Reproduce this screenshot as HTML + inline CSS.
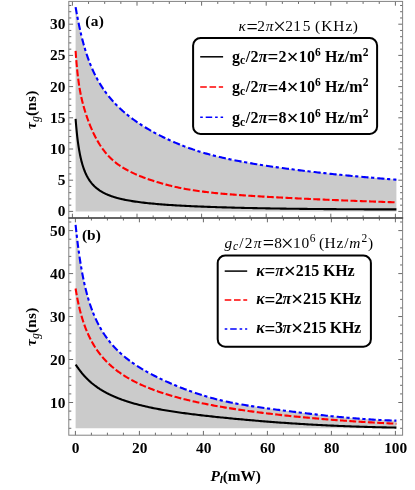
<!DOCTYPE html>
<html><head><meta charset="utf-8"><title>chart</title>
<style>html,body{margin:0;padding:0;background:#fff;}body{width:415px;height:490px;overflow:hidden;font-family:"Liberation Serif",serif;}svg{display:block;will-change:transform;}</style>
</head><body>
<svg width="415" height="490" viewBox="0 0 415 490">
<rect width="415" height="490" fill="#fff"/>
<path d="M75.60,7.10 L75.92,8.97 L76.25,10.81 L76.57,12.61 L76.89,14.38 L77.21,16.11 L77.54,17.81 L77.86,19.48 L78.18,21.11 L78.51,22.72 L78.83,24.28 L79.15,25.82 L79.48,27.33 L79.80,28.81 L80.12,30.26 L80.44,31.67 L80.77,33.07 L81.09,34.43 L81.41,35.77 L81.74,37.08 L82.06,38.36 L82.38,39.62 L82.71,40.86 L83.03,42.08 L83.35,43.27 L83.67,44.43 L84.00,45.58 L84.32,46.71 L84.64,47.81 L84.97,48.89 L85.29,49.96 L85.61,51.00 L85.94,52.03 L86.26,53.04 L86.58,54.03 L86.90,55.00 L87.23,55.96 L87.55,56.90 L87.87,57.82 L88.20,58.73 L88.52,59.63 L88.84,60.50 L89.17,61.37 L89.49,62.22 L89.81,63.05 L90.13,63.87 L90.46,64.68 L90.78,65.47 L91.10,66.26 L91.43,67.03 L91.75,67.78 L92.07,68.53 L92.40,69.26 L92.72,69.98 L93.04,70.70 L93.36,71.40 L93.69,72.09 L94.01,72.77 L94.33,73.44 L94.66,74.10 L94.98,74.75 L95.30,75.40 L95.63,76.03 L95.95,76.66 L96.27,77.28 L96.59,77.88 L96.92,78.49 L97.24,79.08 L97.56,79.67 L97.89,80.24 L98.21,80.82 L98.53,81.38 L98.86,81.94 L99.18,82.49 L99.50,83.03 L99.82,83.57 L100.15,84.10 L100.47,84.62 L100.79,85.14 L101.12,85.66 L101.44,86.16 L101.76,86.67 L102.09,87.16 L102.41,87.65 L102.73,88.14 L103.05,88.62 L103.38,89.09 L103.70,89.56 L104.02,90.03 L104.35,90.49 L104.67,90.94 L104.99,91.39 L105.32,91.84 L105.64,92.28 L105.96,92.72 L106.28,93.15 L106.61,93.58 L106.93,94.00 L107.25,94.42 L107.58,94.84 L107.90,95.25 L108.22,95.66 L108.55,96.07 L108.87,96.47 L109.19,96.87 L109.51,97.26 L109.84,97.65 L110.16,98.04 L110.48,98.42 L110.81,98.80 L111.13,99.18 L111.45,99.55 L111.78,99.92 L112.10,100.29 L112.42,100.66 L112.74,101.02 L113.07,101.38 L113.39,101.73 L113.71,102.08 L114.04,102.43 L114.36,102.78 L114.68,103.12 L115.01,103.47 L115.33,103.81 L115.65,104.14 L115.97,104.48 L116.30,104.81 L116.62,105.14 L116.94,105.46 L117.27,105.79 L117.59,106.11 L117.91,106.43 L118.24,106.74 L118.56,107.06 L118.88,107.37 L119.20,107.68 L119.53,107.99 L119.85,108.29 L120.17,108.60 L120.50,108.90 L120.82,109.20 L121.14,109.49 L121.47,109.79 L121.79,110.08 L122.11,110.37 L122.43,110.66 L122.76,110.95 L123.08,111.23 L123.40,111.52 L123.73,111.80 L124.05,112.08 L124.08,112.11 L125.70,113.48 L127.31,114.81 L128.93,116.10 L130.54,117.35 L132.16,118.57 L133.77,119.76 L135.38,120.91 L137.00,122.04 L138.62,123.13 L140.23,124.20 L141.84,125.25 L143.46,126.26 L145.07,127.26 L146.69,128.24 L148.31,129.19 L149.92,130.12 L151.54,131.04 L153.15,131.93 L154.76,132.81 L156.38,133.67 L158.00,134.51 L159.61,135.34 L161.23,136.16 L162.84,136.96 L164.45,137.74 L166.07,138.51 L167.69,139.27 L169.30,140.02 L170.92,140.75 L172.53,141.47 L174.15,142.17 L175.76,142.86 L177.38,143.54 L178.99,144.20 L180.61,144.86 L182.22,145.50 L183.84,146.12 L185.45,146.74 L187.06,147.34 L188.68,147.92 L190.30,148.50 L191.91,149.06 L193.53,149.62 L195.14,150.16 L196.75,150.69 L198.37,151.20 L199.99,151.71 L201.60,152.20 L203.22,152.69 L204.83,153.16 L206.44,153.62 L208.06,154.07 L209.68,154.51 L211.29,154.94 L212.91,155.36 L214.52,155.78 L216.13,156.18 L217.75,156.58 L219.37,156.96 L220.98,157.34 L222.59,157.72 L224.21,158.08 L225.83,158.44 L227.44,158.79 L229.06,159.13 L230.67,159.47 L232.28,159.81 L233.90,160.13 L235.52,160.45 L237.13,160.77 L238.75,161.08 L240.36,161.39 L241.97,161.69 L243.59,161.98 L245.21,162.28 L246.82,162.56 L248.44,162.85 L250.05,163.13 L251.66,163.40 L253.28,163.67 L254.90,163.94 L256.51,164.21 L258.12,164.47 L259.74,164.72 L261.36,164.98 L262.97,165.23 L264.59,165.48 L266.20,165.72 L267.81,165.97 L269.43,166.21 L271.05,166.44 L272.66,166.68 L274.27,166.91 L275.89,167.14 L277.50,167.37 L279.12,167.60 L280.74,167.82 L282.35,168.04 L283.97,168.26 L285.58,168.48 L287.19,168.69 L288.81,168.91 L290.43,169.12 L292.04,169.33 L293.65,169.54 L295.27,169.74 L296.88,169.95 L298.50,170.15 L300.12,170.35 L301.73,170.55 L303.35,170.74 L304.96,170.94 L306.58,171.13 L308.19,171.33 L309.81,171.52 L311.42,171.70 L313.03,171.89 L314.65,172.08 L316.26,172.26 L317.88,172.44 L319.50,172.62 L321.11,172.80 L322.73,172.98 L324.34,173.15 L325.96,173.33 L327.57,173.50 L329.19,173.67 L330.80,173.84 L332.41,174.01 L334.03,174.18 L335.64,174.34 L337.26,174.51 L338.88,174.67 L340.49,174.83 L342.11,174.99 L343.72,175.15 L345.34,175.31 L346.95,175.47 L348.57,175.62 L350.18,175.77 L351.79,175.93 L353.41,176.08 L355.02,176.23 L356.64,176.38 L358.25,176.52 L359.87,176.67 L361.49,176.81 L363.10,176.96 L364.72,177.10 L366.33,177.24 L367.95,177.38 L369.56,177.52 L371.17,177.66 L372.79,177.80 L374.40,177.93 L376.02,178.07 L377.63,178.20 L379.25,178.33 L380.87,178.47 L382.48,178.60 L384.10,178.73 L385.71,178.85 L387.33,178.98 L388.94,179.11 L390.55,179.23 L392.17,179.36 L393.78,179.48 L395.40,179.60 L396.40,179.68 L396.40,211.4 L75.60,211.4 Z" fill="#cbcbcb"/>
<path d="M75.60,224.91 L75.92,227.94 L76.24,230.90 L76.56,233.78 L76.88,236.58 L77.20,239.31 L77.52,241.95 L77.84,244.52 L78.16,247.01 L78.48,249.43 L78.80,251.78 L79.12,254.06 L79.44,256.27 L79.76,258.42 L80.08,260.51 L80.40,262.53 L80.72,264.50 L81.04,266.42 L81.36,268.28 L81.68,270.10 L82.00,271.86 L82.32,273.58 L82.64,275.25 L82.96,276.87 L83.28,278.46 L83.60,280.01 L83.92,281.51 L84.24,282.98 L84.56,284.41 L84.88,285.81 L85.20,287.18 L85.52,288.51 L85.84,289.81 L86.16,291.08 L86.48,292.32 L86.80,293.53 L87.12,294.71 L87.44,295.87 L87.76,297.01 L88.08,298.11 L88.40,299.20 L88.72,300.26 L89.04,301.30 L89.36,302.31 L89.68,303.31 L90.00,304.28 L90.32,305.24 L90.64,306.17 L90.96,307.09 L91.28,307.99 L91.60,308.87 L91.92,309.73 L92.24,310.58 L92.56,311.42 L92.88,312.23 L93.20,313.04 L93.52,313.83 L93.84,314.60 L94.16,315.37 L94.48,316.12 L94.80,316.85 L95.12,317.58 L95.44,318.29 L95.76,318.99 L96.08,319.68 L96.40,320.36 L96.72,321.03 L97.04,321.69 L97.36,322.34 L97.68,322.98 L98.00,323.61 L98.32,324.23 L98.64,324.84 L98.96,325.44 L99.28,326.03 L99.60,326.62 L99.92,327.20 L100.24,327.77 L100.56,328.33 L100.88,328.88 L101.20,329.43 L101.52,329.97 L101.84,330.50 L102.16,331.03 L102.48,331.55 L102.80,332.06 L103.12,332.56 L103.44,333.06 L103.76,333.56 L104.08,334.04 L104.40,334.53 L104.72,335.00 L105.04,335.47 L105.36,335.94 L105.68,336.40 L106.00,336.85 L106.32,337.30 L106.64,337.74 L106.96,338.18 L107.28,338.61 L107.60,339.04 L107.92,339.47 L108.24,339.89 L108.56,340.30 L108.88,340.71 L109.20,341.12 L109.52,341.52 L109.84,341.92 L110.16,342.32 L110.48,342.71 L110.80,343.09 L111.12,343.47 L111.44,343.85 L111.76,344.23 L112.08,344.60 L112.40,344.97 L112.72,345.33 L113.04,345.69 L113.36,346.05 L113.68,346.40 L114.00,346.75 L114.32,347.10 L114.64,347.44 L114.96,347.78 L115.28,348.12 L115.60,348.45 L115.92,348.79 L116.24,349.12 L116.56,349.44 L116.88,349.76 L117.20,350.08 L117.52,350.40 L117.84,350.72 L118.16,351.03 L118.48,351.34 L118.80,351.65 L119.12,351.95 L119.44,352.25 L119.76,352.55 L120.08,352.85 L120.40,353.14 L120.72,353.43 L121.04,353.72 L121.36,354.01 L121.68,354.30 L122.00,354.58 L122.32,354.86 L122.64,355.14 L122.96,355.42 L123.28,355.69 L123.60,355.96 L123.92,356.24 L124.24,356.50 L124.56,356.77 L124.88,357.03 L125.20,357.30 L125.52,357.56 L125.84,357.82 L126.16,358.07 L126.48,358.33 L126.60,358.42 L128.20,359.67 L129.80,360.88 L131.40,362.04 L133.00,363.18 L134.60,364.27 L136.20,365.34 L137.80,366.38 L139.40,367.39 L141.00,368.37 L142.60,369.34 L144.20,370.27 L145.80,371.19 L147.40,372.09 L149.00,372.97 L150.60,373.82 L152.20,374.67 L153.80,375.49 L155.40,376.30 L157.00,377.10 L158.60,377.88 L160.20,378.65 L161.80,379.41 L163.40,380.15 L165.00,380.89 L166.60,381.61 L168.20,382.32 L169.80,383.02 L171.40,383.71 L173.00,384.39 L174.60,385.06 L176.20,385.73 L177.80,386.39 L179.40,387.03 L181.00,387.67 L182.60,388.30 L184.20,388.92 L185.80,389.53 L187.40,390.13 L189.00,390.72 L190.60,391.31 L192.20,391.88 L193.80,392.44 L195.40,392.99 L197.00,393.53 L198.60,394.06 L200.20,394.57 L201.80,395.08 L203.40,395.58 L205.00,396.07 L206.60,396.54 L208.20,397.01 L209.80,397.46 L211.40,397.91 L213.00,398.34 L214.60,398.77 L216.20,399.18 L217.80,399.58 L219.40,399.98 L221.00,400.36 L222.60,400.73 L224.20,401.09 L225.80,401.45 L227.40,401.79 L229.00,402.13 L230.60,402.45 L232.20,402.77 L233.80,403.08 L235.40,403.39 L237.00,403.69 L238.60,403.98 L240.20,404.26 L241.80,404.54 L243.40,404.81 L245.00,405.08 L246.60,405.35 L248.20,405.60 L249.80,405.86 L251.40,406.11 L253.00,406.35 L254.60,406.60 L256.20,406.83 L257.80,407.07 L259.40,407.30 L261.00,407.53 L262.60,407.76 L264.20,407.98 L265.80,408.20 L267.40,408.42 L269.00,408.64 L270.60,408.85 L272.20,409.06 L273.80,409.28 L275.40,409.48 L277.00,409.69 L278.60,409.90 L280.20,410.10 L281.80,410.31 L283.40,410.51 L285.00,410.71 L286.60,410.91 L288.20,411.11 L289.80,411.31 L291.40,411.51 L293.00,411.71 L294.60,411.90 L296.20,412.10 L297.80,412.30 L299.40,412.49 L301.00,412.69 L302.60,412.89 L304.20,413.08 L305.80,413.27 L307.40,413.47 L309.00,413.66 L310.60,413.85 L312.20,414.04 L313.80,414.23 L315.40,414.41 L317.00,414.60 L318.60,414.78 L320.20,414.96 L321.80,415.14 L323.40,415.32 L325.00,415.50 L326.60,415.67 L328.20,415.84 L329.80,416.01 L331.40,416.18 L333.00,416.35 L334.60,416.51 L336.20,416.67 L337.80,416.83 L339.40,416.98 L341.00,417.14 L342.60,417.29 L344.20,417.44 L345.80,417.58 L347.40,417.72 L349.00,417.86 L350.60,418.00 L352.20,418.13 L353.80,418.27 L355.40,418.39 L357.00,418.52 L358.60,418.64 L360.20,418.76 L361.80,418.88 L363.40,418.99 L365.00,419.10 L366.60,419.21 L368.20,419.32 L369.80,419.42 L371.40,419.52 L373.00,419.61 L374.60,419.70 L376.20,419.79 L377.80,419.88 L379.40,419.96 L381.00,420.04 L382.60,420.12 L384.20,420.19 L385.80,420.26 L387.40,420.33 L389.00,420.39 L390.60,420.45 L392.20,420.51 L393.80,420.56 L395.40,420.62 L396.40,420.65 L396.40,428.3 L75.60,428.3 Z" fill="#cbcbcb"/>
<path d="M72.40,1.4v4.3 M72.40,218.0v-4.3 M75.40,218.0v4.3 M75.40,435.2v-4.3 M88.55,1.4v2.5 M88.55,218.0v-2.5 M91.40,218.0v2.5 M91.40,435.2v-2.5 M104.70,1.4v2.5 M104.70,218.0v-2.5 M107.40,218.0v2.5 M107.40,435.2v-2.5 M120.85,1.4v2.5 M120.85,218.0v-2.5 M123.40,218.0v2.5 M123.40,435.2v-2.5 M137.00,1.4v4.3 M137.00,218.0v-4.3 M139.40,218.0v4.3 M139.40,435.2v-4.3 M153.15,1.4v2.5 M153.15,218.0v-2.5 M155.40,218.0v2.5 M155.40,435.2v-2.5 M169.30,1.4v2.5 M169.30,218.0v-2.5 M171.40,218.0v2.5 M171.40,435.2v-2.5 M185.45,1.4v2.5 M185.45,218.0v-2.5 M187.40,218.0v2.5 M187.40,435.2v-2.5 M201.60,1.4v4.3 M201.60,218.0v-4.3 M203.40,218.0v4.3 M203.40,435.2v-4.3 M217.75,1.4v2.5 M217.75,218.0v-2.5 M219.40,218.0v2.5 M219.40,435.2v-2.5 M233.90,1.4v2.5 M233.90,218.0v-2.5 M235.40,218.0v2.5 M235.40,435.2v-2.5 M250.05,1.4v2.5 M250.05,218.0v-2.5 M251.40,218.0v2.5 M251.40,435.2v-2.5 M266.20,1.4v4.3 M266.20,218.0v-4.3 M267.40,218.0v4.3 M267.40,435.2v-4.3 M282.35,1.4v2.5 M282.35,218.0v-2.5 M283.40,218.0v2.5 M283.40,435.2v-2.5 M298.50,1.4v2.5 M298.50,218.0v-2.5 M299.40,218.0v2.5 M299.40,435.2v-2.5 M314.65,1.4v2.5 M314.65,218.0v-2.5 M315.40,218.0v2.5 M315.40,435.2v-2.5 M330.80,1.4v4.3 M330.80,218.0v-4.3 M331.40,218.0v4.3 M331.40,435.2v-4.3 M346.95,1.4v2.5 M346.95,218.0v-2.5 M347.40,218.0v2.5 M347.40,435.2v-2.5 M363.10,1.4v2.5 M363.10,218.0v-2.5 M363.40,218.0v2.5 M363.40,435.2v-2.5 M379.25,1.4v2.5 M379.25,218.0v-2.5 M379.40,218.0v2.5 M379.40,435.2v-2.5 M395.40,1.4v4.3 M395.40,218.0v-4.3 M395.40,218.0v4.3 M395.40,435.2v-4.3 M68.8,211.40h4.3 M402.6,211.40h-4.3 M68.8,205.16h2.5 M402.6,205.16h-2.5 M68.8,198.92h2.5 M402.6,198.92h-2.5 M68.8,192.68h2.5 M402.6,192.68h-2.5 M68.8,186.44h2.5 M402.6,186.44h-2.5 M68.8,180.20h4.3 M402.6,180.20h-4.3 M68.8,173.96h2.5 M402.6,173.96h-2.5 M68.8,167.72h2.5 M402.6,167.72h-2.5 M68.8,161.48h2.5 M402.6,161.48h-2.5 M68.8,155.24h2.5 M402.6,155.24h-2.5 M68.8,149.00h4.3 M402.6,149.00h-4.3 M68.8,142.76h2.5 M402.6,142.76h-2.5 M68.8,136.52h2.5 M402.6,136.52h-2.5 M68.8,130.28h2.5 M402.6,130.28h-2.5 M68.8,124.04h2.5 M402.6,124.04h-2.5 M68.8,117.80h4.3 M402.6,117.80h-4.3 M68.8,111.56h2.5 M402.6,111.56h-2.5 M68.8,105.32h2.5 M402.6,105.32h-2.5 M68.8,99.08h2.5 M402.6,99.08h-2.5 M68.8,92.84h2.5 M402.6,92.84h-2.5 M68.8,86.60h4.3 M402.6,86.60h-4.3 M68.8,80.36h2.5 M402.6,80.36h-2.5 M68.8,74.12h2.5 M402.6,74.12h-2.5 M68.8,67.88h2.5 M402.6,67.88h-2.5 M68.8,61.64h2.5 M402.6,61.64h-2.5 M68.8,55.40h4.3 M402.6,55.40h-4.3 M68.8,49.16h2.5 M402.6,49.16h-2.5 M68.8,42.92h2.5 M402.6,42.92h-2.5 M68.8,36.68h2.5 M402.6,36.68h-2.5 M68.8,30.44h2.5 M402.6,30.44h-2.5 M68.8,24.20h4.3 M402.6,24.20h-4.3 M68.8,17.96h2.5 M402.6,17.96h-2.5 M68.8,11.72h2.5 M402.6,11.72h-2.5 M68.8,5.48h2.5 M402.6,5.48h-2.5 M68.8,428.29h2.5 M402.6,428.29h-2.5 M68.8,419.69h2.5 M402.6,419.69h-2.5 M68.8,411.10h2.5 M402.6,411.10h-2.5 M68.8,402.50h4.3 M402.6,402.50h-4.3 M68.8,393.91h2.5 M402.6,393.91h-2.5 M68.8,385.31h2.5 M402.6,385.31h-2.5 M68.8,376.72h2.5 M402.6,376.72h-2.5 M68.8,368.12h2.5 M402.6,368.12h-2.5 M68.8,359.53h4.3 M402.6,359.53h-4.3 M68.8,350.93h2.5 M402.6,350.93h-2.5 M68.8,342.34h2.5 M402.6,342.34h-2.5 M68.8,333.74h2.5 M402.6,333.74h-2.5 M68.8,325.14h2.5 M402.6,325.14h-2.5 M68.8,316.55h4.3 M402.6,316.55h-4.3 M68.8,307.96h2.5 M402.6,307.96h-2.5 M68.8,299.36h2.5 M402.6,299.36h-2.5 M68.8,290.76h2.5 M402.6,290.76h-2.5 M68.8,282.17h2.5 M402.6,282.17h-2.5 M68.8,273.58h4.3 M402.6,273.58h-4.3 M68.8,264.98h2.5 M402.6,264.98h-2.5 M68.8,256.38h2.5 M402.6,256.38h-2.5 M68.8,247.79h2.5 M402.6,247.79h-2.5 M68.8,239.19h2.5 M402.6,239.19h-2.5 M68.8,230.60h4.3 M402.6,230.60h-4.3 M68.8,222.00h2.5 M402.6,222.00h-2.5" stroke="#6a6a6a" stroke-width="1" fill="none"/>
<rect x="68.8" y="1.4" width="333.8" height="216.6" fill="none" stroke="#828282" stroke-width="1"/>
<rect x="68.8" y="218.0" width="333.8" height="217.2" fill="none" stroke="#828282" stroke-width="1"/>
<path d="M68.3,218.0H403.1" stroke="#2a2a2a" stroke-width="1.2"/>
<path d="M75.60,7.10 L75.92,8.97 L76.25,10.81 L76.57,12.61 L76.89,14.38 L77.21,16.11 L77.54,17.81 L77.86,19.48 L78.18,21.11 L78.51,22.72 L78.83,24.28 L79.15,25.82 L79.48,27.33 L79.80,28.81 L80.12,30.26 L80.44,31.67 L80.77,33.07 L81.09,34.43 L81.41,35.77 L81.74,37.08 L82.06,38.36 L82.38,39.62 L82.71,40.86 L83.03,42.08 L83.35,43.27 L83.67,44.43 L84.00,45.58 L84.32,46.71 L84.64,47.81 L84.97,48.89 L85.29,49.96 L85.61,51.00 L85.94,52.03 L86.26,53.04 L86.58,54.03 L86.90,55.00 L87.23,55.96 L87.55,56.90 L87.87,57.82 L88.20,58.73 L88.52,59.63 L88.84,60.50 L89.17,61.37 L89.49,62.22 L89.81,63.05 L90.13,63.87 L90.46,64.68 L90.78,65.47 L91.10,66.26 L91.43,67.03 L91.75,67.78 L92.07,68.53 L92.40,69.26 L92.72,69.98 L93.04,70.70 L93.36,71.40 L93.69,72.09 L94.01,72.77 L94.33,73.44 L94.66,74.10 L94.98,74.75 L95.30,75.40 L95.63,76.03 L95.95,76.66 L96.27,77.28 L96.59,77.88 L96.92,78.49 L97.24,79.08 L97.56,79.67 L97.89,80.24 L98.21,80.82 L98.53,81.38 L98.86,81.94 L99.18,82.49 L99.50,83.03 L99.82,83.57 L100.15,84.10 L100.47,84.62 L100.79,85.14 L101.12,85.66 L101.44,86.16 L101.76,86.67 L102.09,87.16 L102.41,87.65 L102.73,88.14 L103.05,88.62 L103.38,89.09 L103.70,89.56 L104.02,90.03 L104.35,90.49 L104.67,90.94 L104.99,91.39 L105.32,91.84 L105.64,92.28 L105.96,92.72 L106.28,93.15 L106.61,93.58 L106.93,94.00 L107.25,94.42 L107.58,94.84 L107.90,95.25 L108.22,95.66 L108.55,96.07 L108.87,96.47 L109.19,96.87 L109.51,97.26 L109.84,97.65 L110.16,98.04 L110.48,98.42 L110.81,98.80 L111.13,99.18 L111.45,99.55 L111.78,99.92 L112.10,100.29 L112.42,100.66 L112.74,101.02 L113.07,101.38 L113.39,101.73 L113.71,102.08 L114.04,102.43 L114.36,102.78 L114.68,103.12 L115.01,103.47 L115.33,103.81 L115.65,104.14 L115.97,104.48 L116.30,104.81 L116.62,105.14 L116.94,105.46 L117.27,105.79 L117.59,106.11 L117.91,106.43 L118.24,106.74 L118.56,107.06 L118.88,107.37 L119.20,107.68 L119.53,107.99 L119.85,108.29 L120.17,108.60 L120.50,108.90 L120.82,109.20 L121.14,109.49 L121.47,109.79 L121.79,110.08 L122.11,110.37 L122.43,110.66 L122.76,110.95 L123.08,111.23 L123.40,111.52 L123.73,111.80 L124.05,112.08 L124.08,112.11 L125.70,113.48 L127.31,114.81 L128.93,116.10 L130.54,117.35 L132.16,118.57 L133.77,119.76 L135.38,120.91 L137.00,122.04 L138.62,123.13 L140.23,124.20 L141.84,125.25 L143.46,126.26 L145.07,127.26 L146.69,128.24 L148.31,129.19 L149.92,130.12 L151.54,131.04 L153.15,131.93 L154.76,132.81 L156.38,133.67 L158.00,134.51 L159.61,135.34 L161.23,136.16 L162.84,136.96 L164.45,137.74 L166.07,138.51 L167.69,139.27 L169.30,140.02 L170.92,140.75 L172.53,141.47 L174.15,142.17 L175.76,142.86 L177.38,143.54 L178.99,144.20 L180.61,144.86 L182.22,145.50 L183.84,146.12 L185.45,146.74 L187.06,147.34 L188.68,147.92 L190.30,148.50 L191.91,149.06 L193.53,149.62 L195.14,150.16 L196.75,150.69 L198.37,151.20 L199.99,151.71 L201.60,152.20 L203.22,152.69 L204.83,153.16 L206.44,153.62 L208.06,154.07 L209.68,154.51 L211.29,154.94 L212.91,155.36 L214.52,155.78 L216.13,156.18 L217.75,156.58 L219.37,156.96 L220.98,157.34 L222.59,157.72 L224.21,158.08 L225.83,158.44 L227.44,158.79 L229.06,159.13 L230.67,159.47 L232.28,159.81 L233.90,160.13 L235.52,160.45 L237.13,160.77 L238.75,161.08 L240.36,161.39 L241.97,161.69 L243.59,161.98 L245.21,162.28 L246.82,162.56 L248.44,162.85 L250.05,163.13 L251.66,163.40 L253.28,163.67 L254.90,163.94 L256.51,164.21 L258.12,164.47 L259.74,164.72 L261.36,164.98 L262.97,165.23 L264.59,165.48 L266.20,165.72 L267.81,165.97 L269.43,166.21 L271.05,166.44 L272.66,166.68 L274.27,166.91 L275.89,167.14 L277.50,167.37 L279.12,167.60 L280.74,167.82 L282.35,168.04 L283.97,168.26 L285.58,168.48 L287.19,168.69 L288.81,168.91 L290.43,169.12 L292.04,169.33 L293.65,169.54 L295.27,169.74 L296.88,169.95 L298.50,170.15 L300.12,170.35 L301.73,170.55 L303.35,170.74 L304.96,170.94 L306.58,171.13 L308.19,171.33 L309.81,171.52 L311.42,171.70 L313.03,171.89 L314.65,172.08 L316.26,172.26 L317.88,172.44 L319.50,172.62 L321.11,172.80 L322.73,172.98 L324.34,173.15 L325.96,173.33 L327.57,173.50 L329.19,173.67 L330.80,173.84 L332.41,174.01 L334.03,174.18 L335.64,174.34 L337.26,174.51 L338.88,174.67 L340.49,174.83 L342.11,174.99 L343.72,175.15 L345.34,175.31 L346.95,175.47 L348.57,175.62 L350.18,175.77 L351.79,175.93 L353.41,176.08 L355.02,176.23 L356.64,176.38 L358.25,176.52 L359.87,176.67 L361.49,176.81 L363.10,176.96 L364.72,177.10 L366.33,177.24 L367.95,177.38 L369.56,177.52 L371.17,177.66 L372.79,177.80 L374.40,177.93 L376.02,178.07 L377.63,178.20 L379.25,178.33 L380.87,178.47 L382.48,178.60 L384.10,178.73 L385.71,178.85 L387.33,178.98 L388.94,179.11 L390.55,179.23 L392.17,179.36 L393.78,179.48 L395.40,179.60 L396.40,179.68" fill="none" stroke="#0000ff" stroke-width="2.1" stroke-dasharray="7.2,2.6,3.2,3.0" stroke-linecap="butt" stroke-linejoin="round"/>
<path d="M75.60,50.93 L75.92,55.49 L76.25,59.66 L76.57,63.48 L76.89,67.01 L77.21,70.26 L77.54,73.27 L77.86,76.07 L78.18,78.68 L78.51,81.12 L78.83,83.40 L79.15,85.55 L79.48,87.56 L79.80,89.47 L80.12,91.28 L80.44,92.99 L80.77,94.62 L81.09,96.17 L81.41,97.66 L81.74,99.09 L82.06,100.45 L82.38,101.77 L82.71,103.05 L83.03,104.28 L83.35,105.47 L83.67,106.63 L84.00,107.75 L84.32,108.85 L84.64,109.92 L84.97,110.97 L85.29,112.00 L85.61,113.01 L85.94,114.00 L86.26,114.98 L86.58,115.94 L86.90,116.89 L87.23,117.82 L87.55,118.73 L87.87,119.63 L88.20,120.52 L88.52,121.39 L88.84,122.25 L89.17,123.09 L89.49,123.93 L89.81,124.75 L90.13,125.55 L90.46,126.34 L90.78,127.12 L91.10,127.89 L91.43,128.65 L91.75,129.39 L92.07,130.13 L92.40,130.85 L92.72,131.56 L93.04,132.26 L93.36,132.95 L93.69,133.62 L94.01,134.29 L94.33,134.95 L94.66,135.60 L94.98,136.23 L95.30,136.86 L95.63,137.48 L95.95,138.09 L96.27,138.69 L96.59,139.28 L96.92,139.86 L97.24,140.44 L97.56,141.00 L97.89,141.56 L98.21,142.11 L98.53,142.65 L98.86,143.18 L99.18,143.71 L99.50,144.22 L99.82,144.73 L100.15,145.23 L100.47,145.73 L100.79,146.22 L101.12,146.70 L101.44,147.17 L101.76,147.64 L102.09,148.10 L102.41,148.55 L102.73,149.00 L103.05,149.44 L103.38,149.87 L103.70,150.30 L104.02,150.72 L104.35,151.14 L104.67,151.55 L104.99,151.96 L105.32,152.35 L105.64,152.75 L105.96,153.13 L106.28,153.52 L106.61,153.89 L106.93,154.26 L107.25,154.63 L107.58,154.99 L107.90,155.35 L108.22,155.70 L108.55,156.05 L108.87,156.39 L109.19,156.72 L109.51,157.05 L109.84,157.38 L110.16,157.70 L110.48,158.02 L110.81,158.34 L111.13,158.65 L111.45,158.95 L111.78,159.25 L112.10,159.55 L112.42,159.84 L112.74,160.13 L113.07,160.42 L113.39,160.70 L113.71,160.97 L114.04,161.25 L114.36,161.52 L114.68,161.79 L115.01,162.05 L115.33,162.31 L115.65,162.57 L115.97,162.82 L116.30,163.07 L116.62,163.32 L116.94,163.57 L117.27,163.81 L117.59,164.05 L117.91,164.29 L118.24,164.52 L118.56,164.75 L118.88,164.98 L119.20,165.21 L119.53,165.43 L119.85,165.65 L120.17,165.87 L120.50,166.09 L120.82,166.30 L121.14,166.51 L121.47,166.72 L121.79,166.93 L122.11,167.14 L122.43,167.34 L122.76,167.54 L123.08,167.74 L123.40,167.94 L123.73,168.13 L124.05,168.33 L124.08,168.34 L125.70,169.28 L127.31,170.18 L128.93,171.04 L130.54,171.86 L132.16,172.65 L133.77,173.40 L135.38,174.13 L137.00,174.84 L138.62,175.52 L140.23,176.18 L141.84,176.82 L143.46,177.44 L145.07,178.04 L146.69,178.63 L148.31,179.20 L149.92,179.76 L151.54,180.31 L153.15,180.84 L154.76,181.36 L156.38,181.86 L158.00,182.36 L159.61,182.84 L161.23,183.30 L162.84,183.76 L164.45,184.20 L166.07,184.63 L167.69,185.05 L169.30,185.46 L170.92,185.85 L172.53,186.24 L174.15,186.61 L175.76,186.97 L177.38,187.32 L178.99,187.67 L180.61,188.00 L182.22,188.32 L183.84,188.63 L185.45,188.93 L187.06,189.22 L188.68,189.50 L190.30,189.78 L191.91,190.04 L193.53,190.29 L195.14,190.54 L196.75,190.78 L198.37,191.01 L199.99,191.23 L201.60,191.44 L203.22,191.65 L204.83,191.85 L206.44,192.05 L208.06,192.24 L209.68,192.42 L211.29,192.60 L212.91,192.78 L214.52,192.95 L216.13,193.11 L217.75,193.27 L219.37,193.43 L220.98,193.58 L222.59,193.73 L224.21,193.87 L225.83,194.01 L227.44,194.15 L229.06,194.28 L230.67,194.41 L232.28,194.54 L233.90,194.67 L235.52,194.79 L237.13,194.91 L238.75,195.03 L240.36,195.15 L241.97,195.26 L243.59,195.37 L245.21,195.48 L246.82,195.59 L248.44,195.69 L250.05,195.80 L251.66,195.90 L253.28,196.00 L254.90,196.10 L256.51,196.20 L258.12,196.30 L259.74,196.39 L261.36,196.49 L262.97,196.58 L264.59,196.67 L266.20,196.76 L267.81,196.85 L269.43,196.94 L271.05,197.03 L272.66,197.12 L274.27,197.21 L275.89,197.29 L277.50,197.38 L279.12,197.46 L280.74,197.55 L282.35,197.63 L283.97,197.71 L285.58,197.80 L287.19,197.88 L288.81,197.96 L290.43,198.04 L292.04,198.12 L293.65,198.20 L295.27,198.28 L296.88,198.36 L298.50,198.44 L300.12,198.51 L301.73,198.59 L303.35,198.67 L304.96,198.74 L306.58,198.82 L308.19,198.89 L309.81,198.97 L311.42,199.04 L313.03,199.12 L314.65,199.19 L316.26,199.26 L317.88,199.34 L319.50,199.41 L321.11,199.48 L322.73,199.55 L324.34,199.62 L325.96,199.69 L327.57,199.76 L329.19,199.83 L330.80,199.90 L332.41,199.97 L334.03,200.03 L335.64,200.10 L337.26,200.17 L338.88,200.23 L340.49,200.30 L342.11,200.37 L343.72,200.43 L345.34,200.50 L346.95,200.56 L348.57,200.62 L350.18,200.69 L351.79,200.75 L353.41,200.81 L355.02,200.88 L356.64,200.94 L358.25,201.00 L359.87,201.06 L361.49,201.12 L363.10,201.18 L364.72,201.24 L366.33,201.30 L367.95,201.36 L369.56,201.42 L371.17,201.48 L372.79,201.54 L374.40,201.60 L376.02,201.65 L377.63,201.71 L379.25,201.77 L380.87,201.82 L382.48,201.88 L384.10,201.94 L385.71,201.99 L387.33,202.05 L388.94,202.10 L390.55,202.16 L392.17,202.21 L393.78,202.26 L395.40,202.32 L396.40,202.35" fill="none" stroke="#ff0000" stroke-width="2.1" stroke-dasharray="6.9,2.4" stroke-linecap="butt" stroke-linejoin="round"/>
<path d="M75.60,118.91 L75.92,123.01 L76.25,126.77 L76.57,130.21 L76.89,133.38 L77.21,136.32 L77.54,139.03 L77.86,141.56 L78.18,143.91 L78.51,146.11 L78.83,148.17 L79.15,150.11 L79.48,151.92 L79.80,153.63 L80.12,155.25 L80.44,156.78 L80.77,158.22 L81.09,159.59 L81.41,160.89 L81.74,162.13 L82.06,163.31 L82.38,164.43 L82.71,165.50 L83.03,166.52 L83.35,167.50 L83.67,168.43 L84.00,169.33 L84.32,170.19 L84.64,171.02 L84.97,171.81 L85.29,172.57 L85.61,173.30 L85.94,174.01 L86.26,174.69 L86.58,175.34 L86.90,175.98 L87.23,176.59 L87.55,177.18 L87.87,177.75 L88.20,178.30 L88.52,178.83 L88.84,179.35 L89.17,179.85 L89.49,180.33 L89.81,180.80 L90.13,181.26 L90.46,181.70 L90.78,182.13 L91.10,182.55 L91.43,182.95 L91.75,183.35 L92.07,183.73 L92.40,184.10 L92.72,184.47 L93.04,184.82 L93.36,185.16 L93.69,185.50 L94.01,185.83 L94.33,186.15 L94.66,186.46 L94.98,186.76 L95.30,187.06 L95.63,187.34 L95.95,187.63 L96.27,187.90 L96.59,188.17 L96.92,188.43 L97.24,188.69 L97.56,188.94 L97.89,189.19 L98.21,189.43 L98.53,189.66 L98.86,189.89 L99.18,190.12 L99.50,190.34 L99.82,190.56 L100.15,190.77 L100.47,190.98 L100.79,191.18 L101.12,191.38 L101.44,191.57 L101.76,191.77 L102.09,191.95 L102.41,192.14 L102.73,192.32 L103.05,192.50 L103.38,192.67 L103.70,192.84 L104.02,193.01 L104.35,193.17 L104.67,193.34 L104.99,193.50 L105.32,193.65 L105.64,193.81 L105.96,193.96 L106.28,194.10 L106.61,194.25 L106.93,194.39 L107.25,194.53 L107.58,194.67 L107.90,194.81 L108.22,194.94 L108.55,195.08 L108.87,195.21 L109.19,195.33 L109.51,195.46 L109.84,195.58 L110.16,195.70 L110.48,195.82 L110.81,195.94 L111.13,196.06 L111.45,196.17 L111.78,196.29 L112.10,196.40 L112.42,196.51 L112.74,196.62 L113.07,196.72 L113.39,196.83 L113.71,196.93 L114.04,197.03 L114.36,197.13 L114.68,197.23 L115.01,197.33 L115.33,197.43 L115.65,197.52 L115.97,197.62 L116.30,197.71 L116.62,197.80 L116.94,197.89 L117.27,197.98 L117.59,198.07 L117.91,198.15 L118.24,198.24 L118.56,198.32 L118.88,198.41 L119.20,198.49 L119.53,198.57 L119.85,198.65 L120.17,198.73 L120.50,198.81 L120.82,198.88 L121.14,198.96 L121.47,199.04 L121.79,199.11 L122.11,199.18 L122.43,199.26 L122.76,199.33 L123.08,199.40 L123.40,199.47 L123.73,199.54 L124.05,199.61 L124.08,199.61 L125.70,199.95 L127.31,200.26 L128.93,200.56 L130.54,200.84 L132.16,201.11 L133.77,201.36 L135.38,201.60 L137.00,201.83 L138.62,202.05 L140.23,202.27 L141.84,202.47 L143.46,202.66 L145.07,202.85 L146.69,203.02 L148.31,203.20 L149.92,203.36 L151.54,203.52 L153.15,203.67 L154.76,203.82 L156.38,203.96 L158.00,204.10 L159.61,204.23 L161.23,204.36 L162.84,204.48 L164.45,204.60 L166.07,204.72 L167.69,204.83 L169.30,204.94 L170.92,205.04 L172.53,205.15 L174.15,205.25 L175.76,205.34 L177.38,205.44 L178.99,205.53 L180.61,205.62 L182.22,205.71 L183.84,205.79 L185.45,205.87 L187.06,205.95 L188.68,206.03 L190.30,206.11 L191.91,206.18 L193.53,206.26 L195.14,206.33 L196.75,206.40 L198.37,206.46 L199.99,206.53 L201.60,206.60 L203.22,206.66 L204.83,206.72 L206.44,206.78 L208.06,206.84 L209.68,206.90 L211.29,206.96 L212.91,207.01 L214.52,207.07 L216.13,207.12 L217.75,207.18 L219.37,207.23 L220.98,207.28 L222.59,207.33 L224.21,207.38 L225.83,207.42 L227.44,207.47 L229.06,207.52 L230.67,207.56 L232.28,207.61 L233.90,207.65 L235.52,207.69 L237.13,207.73 L238.75,207.77 L240.36,207.81 L241.97,207.85 L243.59,207.89 L245.21,207.93 L246.82,207.96 L248.44,208.00 L250.05,208.03 L251.66,208.07 L253.28,208.10 L254.90,208.14 L256.51,208.17 L258.12,208.20 L259.74,208.23 L261.36,208.26 L262.97,208.29 L264.59,208.32 L266.20,208.35 L267.81,208.38 L269.43,208.41 L271.05,208.44 L272.66,208.46 L274.27,208.49 L275.89,208.51 L277.50,208.54 L279.12,208.56 L280.74,208.59 L282.35,208.61 L283.97,208.63 L285.58,208.66 L287.19,208.68 L288.81,208.70 L290.43,208.72 L292.04,208.74 L293.65,208.76 L295.27,208.79 L296.88,208.80 L298.50,208.82 L300.12,208.84 L301.73,208.86 L303.35,208.88 L304.96,208.90 L306.58,208.91 L308.19,208.93 L309.81,208.95 L311.42,208.96 L313.03,208.98 L314.65,209.00 L316.26,209.01 L317.88,209.03 L319.50,209.04 L321.11,209.06 L322.73,209.07 L324.34,209.08 L325.96,209.10 L327.57,209.11 L329.19,209.12 L330.80,209.13 L332.41,209.15 L334.03,209.16 L335.64,209.17 L337.26,209.18 L338.88,209.19 L340.49,209.20 L342.11,209.21 L343.72,209.22 L345.34,209.23 L346.95,209.24 L348.57,209.25 L350.18,209.26 L351.79,209.27 L353.41,209.28 L355.02,209.29 L356.64,209.29 L358.25,209.30 L359.87,209.31 L361.49,209.32 L363.10,209.32 L364.72,209.33 L366.33,209.34 L367.95,209.34 L369.56,209.35 L371.17,209.36 L372.79,209.36 L374.40,209.37 L376.02,209.37 L377.63,209.38 L379.25,209.38 L380.87,209.39 L382.48,209.39 L384.10,209.40 L385.71,209.40 L387.33,209.40 L388.94,209.41 L390.55,209.41 L392.17,209.41 L393.78,209.42 L395.40,209.42 L396.40,209.42" fill="none" stroke="#000" stroke-width="2.1" stroke-linecap="butt" stroke-linejoin="round"/>
<path d="M75.60,224.91 L75.92,227.94 L76.24,230.90 L76.56,233.78 L76.88,236.58 L77.20,239.31 L77.52,241.95 L77.84,244.52 L78.16,247.01 L78.48,249.43 L78.80,251.78 L79.12,254.06 L79.44,256.27 L79.76,258.42 L80.08,260.51 L80.40,262.53 L80.72,264.50 L81.04,266.42 L81.36,268.28 L81.68,270.10 L82.00,271.86 L82.32,273.58 L82.64,275.25 L82.96,276.87 L83.28,278.46 L83.60,280.01 L83.92,281.51 L84.24,282.98 L84.56,284.41 L84.88,285.81 L85.20,287.18 L85.52,288.51 L85.84,289.81 L86.16,291.08 L86.48,292.32 L86.80,293.53 L87.12,294.71 L87.44,295.87 L87.76,297.01 L88.08,298.11 L88.40,299.20 L88.72,300.26 L89.04,301.30 L89.36,302.31 L89.68,303.31 L90.00,304.28 L90.32,305.24 L90.64,306.17 L90.96,307.09 L91.28,307.99 L91.60,308.87 L91.92,309.73 L92.24,310.58 L92.56,311.42 L92.88,312.23 L93.20,313.04 L93.52,313.83 L93.84,314.60 L94.16,315.37 L94.48,316.12 L94.80,316.85 L95.12,317.58 L95.44,318.29 L95.76,318.99 L96.08,319.68 L96.40,320.36 L96.72,321.03 L97.04,321.69 L97.36,322.34 L97.68,322.98 L98.00,323.61 L98.32,324.23 L98.64,324.84 L98.96,325.44 L99.28,326.03 L99.60,326.62 L99.92,327.20 L100.24,327.77 L100.56,328.33 L100.88,328.88 L101.20,329.43 L101.52,329.97 L101.84,330.50 L102.16,331.03 L102.48,331.55 L102.80,332.06 L103.12,332.56 L103.44,333.06 L103.76,333.56 L104.08,334.04 L104.40,334.53 L104.72,335.00 L105.04,335.47 L105.36,335.94 L105.68,336.40 L106.00,336.85 L106.32,337.30 L106.64,337.74 L106.96,338.18 L107.28,338.61 L107.60,339.04 L107.92,339.47 L108.24,339.89 L108.56,340.30 L108.88,340.71 L109.20,341.12 L109.52,341.52 L109.84,341.92 L110.16,342.32 L110.48,342.71 L110.80,343.09 L111.12,343.47 L111.44,343.85 L111.76,344.23 L112.08,344.60 L112.40,344.97 L112.72,345.33 L113.04,345.69 L113.36,346.05 L113.68,346.40 L114.00,346.75 L114.32,347.10 L114.64,347.44 L114.96,347.78 L115.28,348.12 L115.60,348.45 L115.92,348.79 L116.24,349.12 L116.56,349.44 L116.88,349.76 L117.20,350.08 L117.52,350.40 L117.84,350.72 L118.16,351.03 L118.48,351.34 L118.80,351.65 L119.12,351.95 L119.44,352.25 L119.76,352.55 L120.08,352.85 L120.40,353.14 L120.72,353.43 L121.04,353.72 L121.36,354.01 L121.68,354.30 L122.00,354.58 L122.32,354.86 L122.64,355.14 L122.96,355.42 L123.28,355.69 L123.60,355.96 L123.92,356.24 L124.24,356.50 L124.56,356.77 L124.88,357.03 L125.20,357.30 L125.52,357.56 L125.84,357.82 L126.16,358.07 L126.48,358.33 L126.60,358.42 L128.20,359.67 L129.80,360.88 L131.40,362.04 L133.00,363.18 L134.60,364.27 L136.20,365.34 L137.80,366.38 L139.40,367.39 L141.00,368.37 L142.60,369.34 L144.20,370.27 L145.80,371.19 L147.40,372.09 L149.00,372.97 L150.60,373.82 L152.20,374.67 L153.80,375.49 L155.40,376.30 L157.00,377.10 L158.60,377.88 L160.20,378.65 L161.80,379.41 L163.40,380.15 L165.00,380.89 L166.60,381.61 L168.20,382.32 L169.80,383.02 L171.40,383.71 L173.00,384.39 L174.60,385.06 L176.20,385.73 L177.80,386.39 L179.40,387.03 L181.00,387.67 L182.60,388.30 L184.20,388.92 L185.80,389.53 L187.40,390.13 L189.00,390.72 L190.60,391.31 L192.20,391.88 L193.80,392.44 L195.40,392.99 L197.00,393.53 L198.60,394.06 L200.20,394.57 L201.80,395.08 L203.40,395.58 L205.00,396.07 L206.60,396.54 L208.20,397.01 L209.80,397.46 L211.40,397.91 L213.00,398.34 L214.60,398.77 L216.20,399.18 L217.80,399.58 L219.40,399.98 L221.00,400.36 L222.60,400.73 L224.20,401.09 L225.80,401.45 L227.40,401.79 L229.00,402.13 L230.60,402.45 L232.20,402.77 L233.80,403.08 L235.40,403.39 L237.00,403.69 L238.60,403.98 L240.20,404.26 L241.80,404.54 L243.40,404.81 L245.00,405.08 L246.60,405.35 L248.20,405.60 L249.80,405.86 L251.40,406.11 L253.00,406.35 L254.60,406.60 L256.20,406.83 L257.80,407.07 L259.40,407.30 L261.00,407.53 L262.60,407.76 L264.20,407.98 L265.80,408.20 L267.40,408.42 L269.00,408.64 L270.60,408.85 L272.20,409.06 L273.80,409.28 L275.40,409.48 L277.00,409.69 L278.60,409.90 L280.20,410.10 L281.80,410.31 L283.40,410.51 L285.00,410.71 L286.60,410.91 L288.20,411.11 L289.80,411.31 L291.40,411.51 L293.00,411.71 L294.60,411.90 L296.20,412.10 L297.80,412.30 L299.40,412.49 L301.00,412.69 L302.60,412.89 L304.20,413.08 L305.80,413.27 L307.40,413.47 L309.00,413.66 L310.60,413.85 L312.20,414.04 L313.80,414.23 L315.40,414.41 L317.00,414.60 L318.60,414.78 L320.20,414.96 L321.80,415.14 L323.40,415.32 L325.00,415.50 L326.60,415.67 L328.20,415.84 L329.80,416.01 L331.40,416.18 L333.00,416.35 L334.60,416.51 L336.20,416.67 L337.80,416.83 L339.40,416.98 L341.00,417.14 L342.60,417.29 L344.20,417.44 L345.80,417.58 L347.40,417.72 L349.00,417.86 L350.60,418.00 L352.20,418.13 L353.80,418.27 L355.40,418.39 L357.00,418.52 L358.60,418.64 L360.20,418.76 L361.80,418.88 L363.40,418.99 L365.00,419.10 L366.60,419.21 L368.20,419.32 L369.80,419.42 L371.40,419.52 L373.00,419.61 L374.60,419.70 L376.20,419.79 L377.80,419.88 L379.40,419.96 L381.00,420.04 L382.60,420.12 L384.20,420.19 L385.80,420.26 L387.40,420.33 L389.00,420.39 L390.60,420.45 L392.20,420.51 L393.80,420.56 L395.40,420.62 L396.40,420.65" fill="none" stroke="#0000ff" stroke-width="2.1" stroke-dasharray="7.2,2.6,3.2,3.0" stroke-linecap="butt" stroke-linejoin="round"/>
<path d="M75.60,288.49 L75.92,290.48 L76.24,292.40 L76.56,294.23 L76.88,296.00 L77.20,297.70 L77.52,299.35 L77.84,300.93 L78.16,302.47 L78.48,303.95 L78.80,305.39 L79.12,306.78 L79.44,308.13 L79.76,309.44 L80.08,310.72 L80.40,311.95 L80.72,313.16 L81.04,314.33 L81.36,315.47 L81.68,316.58 L82.00,317.66 L82.32,318.72 L82.64,319.75 L82.96,320.75 L83.28,321.74 L83.60,322.69 L83.92,323.63 L84.24,324.55 L84.56,325.44 L84.88,326.32 L85.20,327.18 L85.52,328.02 L85.84,328.84 L86.16,329.65 L86.48,330.44 L86.80,331.21 L87.12,331.97 L87.44,332.72 L87.76,333.45 L88.08,334.17 L88.40,334.87 L88.72,335.56 L89.04,336.24 L89.36,336.91 L89.68,337.56 L90.00,338.21 L90.32,338.84 L90.64,339.47 L90.96,340.08 L91.28,340.68 L91.60,341.27 L91.92,341.86 L92.24,342.43 L92.56,343.00 L92.88,343.56 L93.20,344.10 L93.52,344.64 L93.84,345.18 L94.16,345.70 L94.48,346.22 L94.80,346.73 L95.12,347.23 L95.44,347.72 L95.76,348.21 L96.08,348.69 L96.40,349.17 L96.72,349.64 L97.04,350.10 L97.36,350.56 L97.68,351.01 L98.00,351.45 L98.32,351.89 L98.64,352.32 L98.96,352.75 L99.28,353.17 L99.60,353.59 L99.92,354.00 L100.24,354.41 L100.56,354.81 L100.88,355.21 L101.20,355.60 L101.52,355.99 L101.84,356.37 L102.16,356.75 L102.48,357.13 L102.80,357.50 L103.12,357.87 L103.44,358.23 L103.76,358.59 L104.08,358.94 L104.40,359.29 L104.72,359.64 L105.04,359.98 L105.36,360.32 L105.68,360.66 L106.00,360.99 L106.32,361.32 L106.64,361.65 L106.96,361.97 L107.28,362.29 L107.60,362.60 L107.92,362.92 L108.24,363.23 L108.56,363.53 L108.88,363.84 L109.20,364.14 L109.52,364.44 L109.84,364.73 L110.16,365.02 L110.48,365.31 L110.80,365.60 L111.12,365.89 L111.44,366.17 L111.76,366.45 L112.08,366.72 L112.40,367.00 L112.72,367.27 L113.04,367.54 L113.36,367.80 L113.68,368.07 L114.00,368.33 L114.32,368.59 L114.64,368.85 L114.96,369.11 L115.28,369.36 L115.60,369.61 L115.92,369.86 L116.24,370.11 L116.56,370.35 L116.88,370.59 L117.20,370.84 L117.52,371.07 L117.84,371.31 L118.16,371.55 L118.48,371.78 L118.80,372.01 L119.12,372.24 L119.44,372.47 L119.76,372.70 L120.08,372.92 L120.40,373.14 L120.72,373.36 L121.04,373.58 L121.36,373.80 L121.68,374.02 L122.00,374.23 L122.32,374.44 L122.64,374.65 L122.96,374.86 L123.28,375.07 L123.60,375.28 L123.92,375.48 L124.24,375.69 L124.56,375.89 L124.88,376.09 L125.20,376.29 L125.52,376.49 L125.84,376.68 L126.16,376.88 L126.48,377.07 L126.60,377.15 L128.20,378.09 L129.80,379.01 L131.40,379.90 L133.00,380.75 L134.60,381.59 L136.20,382.39 L137.80,383.18 L139.40,383.94 L141.00,384.68 L142.60,385.40 L144.20,386.10 L145.80,386.78 L147.40,387.44 L149.00,388.09 L150.60,388.72 L152.20,389.34 L153.80,389.94 L155.40,390.52 L157.00,391.10 L158.60,391.66 L160.20,392.20 L161.80,392.74 L163.40,393.26 L165.00,393.78 L166.60,394.28 L168.20,394.77 L169.80,395.25 L171.40,395.72 L173.00,396.19 L174.60,396.64 L176.20,397.08 L177.80,397.52 L179.40,397.95 L181.00,398.37 L182.60,398.78 L184.20,399.18 L185.80,399.58 L187.40,399.97 L189.00,400.35 L190.60,400.73 L192.20,401.10 L193.80,401.46 L195.40,401.82 L197.00,402.17 L198.60,402.51 L200.20,402.85 L201.80,403.18 L203.40,403.51 L205.00,403.83 L206.60,404.15 L208.20,404.46 L209.80,404.77 L211.40,405.08 L213.00,405.37 L214.60,405.67 L216.20,405.96 L217.80,406.24 L219.40,406.52 L221.00,406.80 L222.60,407.07 L224.20,407.34 L225.80,407.61 L227.40,407.87 L229.00,408.13 L230.60,408.38 L232.20,408.63 L233.80,408.88 L235.40,409.13 L237.00,409.37 L238.60,409.61 L240.20,409.84 L241.80,410.07 L243.40,410.30 L245.00,410.53 L246.60,410.76 L248.20,410.98 L249.80,411.19 L251.40,411.41 L253.00,411.62 L254.60,411.84 L256.20,412.04 L257.80,412.25 L259.40,412.45 L261.00,412.66 L262.60,412.85 L264.20,413.05 L265.80,413.25 L267.40,413.44 L269.00,413.63 L270.60,413.82 L272.20,414.01 L273.80,414.19 L275.40,414.37 L277.00,414.56 L278.60,414.73 L280.20,414.91 L281.80,415.09 L283.40,415.26 L285.00,415.43 L286.60,415.61 L288.20,415.77 L289.80,415.94 L291.40,416.11 L293.00,416.27 L294.60,416.43 L296.20,416.59 L297.80,416.75 L299.40,416.91 L301.00,417.07 L302.60,417.22 L304.20,417.37 L305.80,417.52 L307.40,417.67 L309.00,417.82 L310.60,417.97 L312.20,418.11 L313.80,418.25 L315.40,418.39 L317.00,418.53 L318.60,418.67 L320.20,418.81 L321.80,418.94 L323.40,419.08 L325.00,419.21 L326.60,419.34 L328.20,419.47 L329.80,419.60 L331.40,419.72 L333.00,419.85 L334.60,419.97 L336.20,420.09 L337.80,420.21 L339.40,420.33 L341.00,420.45 L342.60,420.57 L344.20,420.68 L345.80,420.79 L347.40,420.91 L349.00,421.02 L350.60,421.13 L352.20,421.23 L353.80,421.34 L355.40,421.44 L357.00,421.55 L358.60,421.65 L360.20,421.75 L361.80,421.85 L363.40,421.95 L365.00,422.05 L366.60,422.14 L368.20,422.24 L369.80,422.33 L371.40,422.42 L373.00,422.51 L374.60,422.60 L376.20,422.69 L377.80,422.78 L379.40,422.87 L381.00,422.95 L382.60,423.03 L384.20,423.12 L385.80,423.20 L387.40,423.28 L389.00,423.36 L390.60,423.43 L392.20,423.51 L393.80,423.59 L395.40,423.66 L396.40,423.71" fill="none" stroke="#ff0000" stroke-width="2.1" stroke-dasharray="6.9,2.4" stroke-linecap="butt" stroke-linejoin="round"/>
<path d="M75.60,364.55 L75.92,365.00 L76.24,365.46 L76.56,365.91 L76.88,366.37 L77.20,366.83 L77.52,367.28 L77.84,367.73 L78.16,368.18 L78.48,368.62 L78.80,369.06 L79.12,369.50 L79.44,369.93 L79.76,370.36 L80.08,370.78 L80.40,371.20 L80.72,371.61 L81.04,372.02 L81.36,372.42 L81.68,372.82 L82.00,373.22 L82.32,373.60 L82.64,373.99 L82.96,374.36 L83.28,374.74 L83.60,375.11 L83.92,375.47 L84.24,375.83 L84.56,376.18 L84.88,376.53 L85.20,376.88 L85.52,377.22 L85.84,377.56 L86.16,377.89 L86.48,378.22 L86.80,378.54 L87.12,378.86 L87.44,379.18 L87.76,379.49 L88.08,379.80 L88.40,380.11 L88.72,380.41 L89.04,380.71 L89.36,381.00 L89.68,381.29 L90.00,381.58 L90.32,381.86 L90.64,382.14 L90.96,382.42 L91.28,382.69 L91.60,382.97 L91.92,383.23 L92.24,383.50 L92.56,383.76 L92.88,384.02 L93.20,384.27 L93.52,384.53 L93.84,384.78 L94.16,385.03 L94.48,385.27 L94.80,385.51 L95.12,385.75 L95.44,385.99 L95.76,386.22 L96.08,386.46 L96.40,386.69 L96.72,386.91 L97.04,387.14 L97.36,387.36 L97.68,387.58 L98.00,387.80 L98.32,388.02 L98.64,388.23 L98.96,388.44 L99.28,388.65 L99.60,388.86 L99.92,389.06 L100.24,389.27 L100.56,389.47 L100.88,389.67 L101.20,389.87 L101.52,390.06 L101.84,390.25 L102.16,390.45 L102.48,390.64 L102.80,390.83 L103.12,391.01 L103.44,391.20 L103.76,391.38 L104.08,391.56 L104.40,391.74 L104.72,391.92 L105.04,392.10 L105.36,392.27 L105.68,392.45 L106.00,392.62 L106.32,392.79 L106.64,392.96 L106.96,393.12 L107.28,393.29 L107.60,393.45 L107.92,393.62 L108.24,393.78 L108.56,393.94 L108.88,394.10 L109.20,394.26 L109.52,394.41 L109.84,394.57 L110.16,394.72 L110.48,394.87 L110.80,395.03 L111.12,395.18 L111.44,395.33 L111.76,395.47 L112.08,395.62 L112.40,395.76 L112.72,395.91 L113.04,396.05 L113.36,396.19 L113.68,396.33 L114.00,396.47 L114.32,396.61 L114.64,396.75 L114.96,396.89 L115.28,397.02 L115.60,397.16 L115.92,397.29 L116.24,397.42 L116.56,397.55 L116.88,397.68 L117.20,397.81 L117.52,397.94 L117.84,398.07 L118.16,398.19 L118.48,398.32 L118.80,398.44 L119.12,398.57 L119.44,398.69 L119.76,398.81 L120.08,398.93 L120.40,399.05 L120.72,399.17 L121.04,399.29 L121.36,399.41 L121.68,399.53 L122.00,399.64 L122.32,399.76 L122.64,399.87 L122.96,399.98 L123.28,400.10 L123.60,400.21 L123.92,400.32 L124.24,400.43 L124.56,400.54 L124.88,400.65 L125.20,400.76 L125.52,400.87 L125.84,400.97 L126.16,401.08 L126.48,401.18 L126.60,401.22 L128.20,401.74 L129.80,402.24 L131.40,402.72 L133.00,403.19 L134.60,403.64 L136.20,404.08 L137.80,404.51 L139.40,404.92 L141.00,405.33 L142.60,405.72 L144.20,406.10 L145.80,406.47 L147.40,406.83 L149.00,407.18 L150.60,407.52 L152.20,407.85 L153.80,408.18 L155.40,408.50 L157.00,408.80 L158.60,409.11 L160.20,409.40 L161.80,409.69 L163.40,409.97 L165.00,410.24 L166.60,410.51 L168.20,410.77 L169.80,411.03 L171.40,411.28 L173.00,411.53 L174.60,411.77 L176.20,412.01 L177.80,412.24 L179.40,412.47 L181.00,412.70 L182.60,412.92 L184.20,413.14 L185.80,413.36 L187.40,413.57 L189.00,413.78 L190.60,413.98 L192.20,414.18 L193.80,414.38 L195.40,414.58 L197.00,414.77 L198.60,414.96 L200.20,415.15 L201.80,415.34 L203.40,415.52 L205.00,415.71 L206.60,415.89 L208.20,416.06 L209.80,416.24 L211.40,416.41 L213.00,416.59 L214.60,416.76 L216.20,416.92 L217.80,417.09 L219.40,417.26 L221.00,417.42 L222.60,417.58 L224.20,417.74 L225.80,417.90 L227.40,418.06 L229.00,418.21 L230.60,418.37 L232.20,418.52 L233.80,418.68 L235.40,418.83 L237.00,418.98 L238.60,419.13 L240.20,419.27 L241.80,419.42 L243.40,419.57 L245.00,419.71 L246.60,419.85 L248.20,420.00 L249.80,420.14 L251.40,420.28 L253.00,420.41 L254.60,420.55 L256.20,420.69 L257.80,420.82 L259.40,420.96 L261.00,421.09 L262.60,421.22 L264.20,421.35 L265.80,421.48 L267.40,421.61 L269.00,421.73 L270.60,421.86 L272.20,421.98 L273.80,422.10 L275.40,422.22 L277.00,422.34 L278.60,422.46 L280.20,422.58 L281.80,422.69 L283.40,422.81 L285.00,422.92 L286.60,423.03 L288.20,423.14 L289.80,423.25 L291.40,423.35 L293.00,423.46 L294.60,423.56 L296.20,423.67 L297.80,423.77 L299.40,423.87 L301.00,423.97 L302.60,424.06 L304.20,424.16 L305.80,424.25 L307.40,424.35 L309.00,424.44 L310.60,424.53 L312.20,424.62 L313.80,424.71 L315.40,424.80 L317.00,424.88 L318.60,424.96 L320.20,425.05 L321.80,425.13 L323.40,425.21 L325.00,425.29 L326.60,425.37 L328.20,425.44 L329.80,425.52 L331.40,425.59 L333.00,425.66 L334.60,425.74 L336.20,425.81 L337.80,425.87 L339.40,425.94 L341.00,426.01 L342.60,426.07 L344.20,426.14 L345.80,426.20 L347.40,426.26 L349.00,426.32 L350.60,426.38 L352.20,426.44 L353.80,426.50 L355.40,426.55 L357.00,426.61 L358.60,426.66 L360.20,426.72 L361.80,426.77 L363.40,426.82 L365.00,426.87 L366.60,426.91 L368.20,426.96 L369.80,427.01 L371.40,427.05 L373.00,427.10 L374.60,427.14 L376.20,427.18 L377.80,427.22 L379.40,427.26 L381.00,427.30 L382.60,427.34 L384.20,427.37 L385.80,427.41 L387.40,427.44 L389.00,427.48 L390.60,427.51 L392.20,427.54 L393.80,427.57 L395.40,427.60 L396.40,427.62" fill="none" stroke="#000" stroke-width="2.1" stroke-linecap="butt" stroke-linejoin="round"/>
<g font-family="Liberation Serif, serif" font-weight="bold" font-size="15.4px" fill="#000">
<text x="65.4" y="216.4" text-anchor="end">0</text>
<text x="65.4" y="185.2" text-anchor="end">5</text>
<text x="65.4" y="154.0" text-anchor="end">10</text>
<text x="65.4" y="122.8" text-anchor="end">15</text>
<text x="65.4" y="91.6" text-anchor="end">20</text>
<text x="65.4" y="60.4" text-anchor="end">25</text>
<text x="65.4" y="29.2" text-anchor="end">30</text>
<text x="65.4" y="407.5" text-anchor="end">10</text>
<text x="65.4" y="364.5" text-anchor="end">20</text>
<text x="65.4" y="321.6" text-anchor="end">30</text>
<text x="65.4" y="278.6" text-anchor="end">40</text>
<text x="65.4" y="235.6" text-anchor="end">50</text>
<text x="75.7" y="453.1" text-anchor="middle">0</text>
<text x="139.7" y="453.1" text-anchor="middle">20</text>
<text x="203.7" y="453.1" text-anchor="middle">40</text>
<text x="267.7" y="453.1" text-anchor="middle">60</text>
<text x="331.7" y="453.1" text-anchor="middle">80</text>
<text x="395.7" y="453.1" text-anchor="middle">100</text>
<text x="85.3" y="26.2" textLength="18.6">(a)</text>
<text x="82.0" y="240.0" textLength="18.8">(b)</text>
</g>
<g font-family="Liberation Serif, serif" font-weight="bold" font-size="15.4px" fill="#000">
<text x="210.5" y="480.6" textLength="50.5"><tspan font-style="italic">P</tspan><tspan font-style="italic" font-size="11px" dy="2.8">l</tspan><tspan dy="-2.8">(mW)</tspan></text>
<text transform="translate(36.3,129.0) rotate(-90)" textLength="38.4"><tspan font-style="italic">τ</tspan><tspan font-style="italic" font-weight="normal" font-size="11.5px" dy="2.2">g</tspan><tspan dy="-2.2">(ns)</tspan></text>
<text transform="translate(36.3,346.0) rotate(-90)" textLength="38.4"><tspan font-style="italic">τ</tspan><tspan font-style="italic" font-weight="normal" font-size="11.5px" dy="2.2">g</tspan><tspan dy="-2.2">(ns)</tspan></text>
</g>
<g font-family="Liberation Serif, serif" font-size="15.4px" fill="#000">
<text x="238.5" y="31.2" letter-spacing="0.59"><tspan font-style="italic">κ</tspan><tspan font-size="20.0px" dy="2.3">=</tspan><tspan dy="-2.3" dx="-1.2">2</tspan><tspan font-style="italic" dx="0.3">π</tspan><tspan font-size="23px" dy="3.0" dx="-1.0">×</tspan><tspan dy="-3.0" dx="-1.4">2</tspan><tspan dx="-0.2">1</tspan><tspan dx="1.0">5</tspan><tspan dx="-0.3"> (</tspan><tspan dx="0.4">K</tspan><tspan dx="0.3">H</tspan><tspan dx="0.5">z</tspan><tspan>)</tspan></text>
<text x="224.5" y="247.5" letter-spacing="0.7"><tspan font-style="italic">g</tspan><tspan font-style="italic" font-size="11.5px" dy="2.8" dx="0.2">c</tspan><tspan dy="-2.8" dx="0.3">/</tspan><tspan dx="0.5">2</tspan><tspan font-style="italic" dx="0.6">π</tspan><tspan font-size="20.0px" dy="2.3" dx="0.6">=</tspan><tspan dy="-2.3" dx="-0.5">8</tspan><tspan font-size="23px" dy="3.0" dx="-1.9">×</tspan><tspan dy="-3.0" dx="-1.4">1</tspan><tspan>0</tspan><tspan font-size="11.5px" dy="-6">6</tspan><tspan dy="6" dx="-1.7"> (</tspan><tspan dx="-0.4">H</tspan><tspan dx="0.2">z</tspan><tspan dx="0.2">/</tspan><tspan font-style="italic">m</tspan><tspan font-size="11.5px" dy="-6" dx="0.5">2</tspan><tspan dy="6" dx="-0.1">)</tspan></text>
</g>
<rect x="193.1" y="38.1" width="184.0" height="95.8" rx="7.5" ry="7.5" fill="#fff" stroke="#000" stroke-width="2"/>
<rect x="217.7" y="255.6" width="153.2" height="91.1" rx="7.5" ry="7.5" fill="#fff" stroke="#000" stroke-width="2"/>
<g fill="none" stroke-width="1.5">
<path d="M200.2,56.8H223.1" stroke="#000"/>
<path d="M200.2,87.1H223.1" stroke="#f00" stroke-dasharray="6.6,2.7"/>
<path d="M200.2,117.3H223.1" stroke="#00f" stroke-dasharray="2.6,2.9,6.5,2.9"/>
<path d="M224.7,271.1H247.2" stroke="#000"/>
<path d="M224.7,300.0H247.2" stroke="#f00" stroke-dasharray="6.6,2.7"/>
<path d="M224.7,328.9H247.2" stroke="#00f" stroke-dasharray="2.6,2.9,6.5,2.9"/>
</g>
<g font-family="Liberation Serif, serif" font-weight="bold" font-size="16.0px" fill="#000">
<text x="232.0" y="61.6" textLength="136.4"><tspan>g</tspan><tspan font-size="11.5px" dy="2.8">c</tspan><tspan dy="-2.8" dx="0.4">/</tspan><tspan dx="0.4">2</tspan><tspan font-style="italic">π</tspan><tspan font-size="19px" dy="1.6">=</tspan><tspan dy="-1.6">2</tspan><tspan font-size="21.5px" dy="2.2">×</tspan><tspan dy="-2.2">10</tspan><tspan font-size="11.5px" dy="-6">6</tspan><tspan dy="6"> Hz/m</tspan><tspan font-size="11.5px" dy="-6">2</tspan></text>
<text x="232.0" y="92.0" textLength="136.4"><tspan>g</tspan><tspan font-size="11.5px" dy="2.8">c</tspan><tspan dy="-2.8" dx="0.4">/</tspan><tspan dx="0.4">2</tspan><tspan font-style="italic">π</tspan><tspan font-size="19px" dy="1.6">=</tspan><tspan dy="-1.6">4</tspan><tspan font-size="21.5px" dy="2.2">×</tspan><tspan dy="-2.2">10</tspan><tspan font-size="11.5px" dy="-6">6</tspan><tspan dy="6"> Hz/m</tspan><tspan font-size="11.5px" dy="-6">2</tspan></text>
<text x="232.0" y="122.8" textLength="136.4"><tspan>g</tspan><tspan font-size="11.5px" dy="2.8">c</tspan><tspan dy="-2.8" dx="0.4">/</tspan><tspan dx="0.4">2</tspan><tspan font-style="italic">π</tspan><tspan font-size="19px" dy="1.6">=</tspan><tspan dy="-1.6">8</tspan><tspan font-size="21.5px" dy="2.2">×</tspan><tspan dy="-2.2">10</tspan><tspan font-size="11.5px" dy="-6">6</tspan><tspan dy="6"> Hz/m</tspan><tspan font-size="11.5px" dy="-6">2</tspan></text>
<text x="256.2" y="275.7" textLength="98.4"><tspan font-style="italic">κ</tspan><tspan font-size="19px" dy="1.6">=</tspan><tspan font-style="italic" dy="-1.6">π</tspan><tspan font-size="21.5px" dy="2.2">×</tspan><tspan dy="-2.2">215 KHz</tspan></text>
<text x="256.2" y="304.0" textLength="105.0"><tspan font-style="italic">κ</tspan><tspan font-size="19px" dy="1.6">=</tspan><tspan dy="-1.6">2</tspan><tspan font-style="italic">π</tspan><tspan font-size="21.5px" dy="2.2">×</tspan><tspan dy="-2.2">215 KHz</tspan></text>
<text x="256.2" y="333.0" textLength="105.0"><tspan font-style="italic">κ</tspan><tspan font-size="19px" dy="1.6">=</tspan><tspan dy="-1.6">3</tspan><tspan font-style="italic">π</tspan><tspan font-size="21.5px" dy="2.2">×</tspan><tspan dy="-2.2">215 KHz</tspan></text>
</g>
</svg>
</body></html>
